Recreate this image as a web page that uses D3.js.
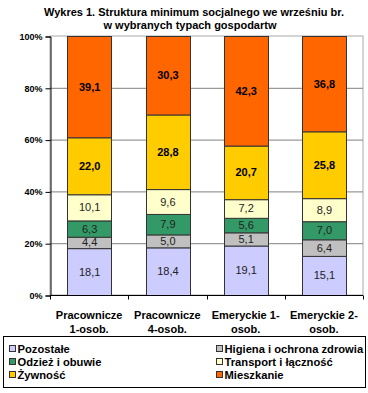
<!DOCTYPE html>
<html><head><meta charset="utf-8">
<script src="https://cdn.jsdelivr.net/npm/d3@7"></script>
<style>body{margin:0;background:#fff}svg{display:block;font-family:"Liberation Sans",Arial,sans-serif}</style>
</head><body>
<script>
const categories = [["Pracownicze","1-osob."],["Pracownicze","4-osob."],["Emeryckie 1-","osob."],["Emeryckie 2-","osob."]];
const seriesNames = ["Pozostałe","Higiena i ochrona zdrowia","Odzież i obuwie","Transport i łączność","Żywność","Mieszkanie"];
const pozostale = [18.1,18.4,19.1,15.1];
const higiena = [4.4,5.0,5.1,6.4];
const odziez = [6.3,7.9,5.6,7.0];
const transport = [10.1,9.6,7.2,8.9];
const zywnosc = [22.0,28.8,20.7,25.8];
const mieszkanie = [39.1,30.3,42.3,36.8];
const yTicks = [0,20,40,60,80,100];
const colors = ["#CCCCFF","#C0C0C0","#339966","#FFFFCC","#FFCC00","#FF6600"];
const seriesData = [pozostale,higiena,odziez,transport,zywnosc,mieszkanie];

const W=368,H=393;
const svg=d3.select("body").append("svg").attr("width",W).attr("height",H);
const x=d3.scaleBand().domain(d3.range(categories.length)).range([50,363]).paddingInner(0.444).paddingOuter(0.222);
const y=d3.scaleLinear().domain([0,100]).range([295,36]);

// title
const t=svg.append("text").attr("text-anchor","middle").attr("font-weight","bold").attr("font-size",11);
t.append("tspan").attr("x",194).attr("y",16).text("Wykres 1. Struktura minimum socjalnego we wrześniu br.");
t.append("tspan").attr("x",190).attr("y",29).text("w wybranych typach gospodartw");

// plot border
svg.append("rect").attr("x",50).attr("y",y(100)).attr("width",313).attr("height",y(0)-y(100)).attr("fill","none").attr("stroke","#aaa");
// gridlines
svg.append("g").selectAll("line").data(yTicks.filter(d=>d>0&&d<100)).join("line")
 .attr("x1",50).attr("x2",363).attr("y1",d=>y(d)+0.5).attr("y2",d=>y(d)+0.5).attr("stroke","#808080");

// stacked
const rows=categories.map((c,i)=>{const o={i};seriesNames.forEach((s,k)=>o[s]=seriesData[k][i]);return o;});
const stack=d3.stack().keys(seriesNames)(rows);
const g=svg.append("g");
stack.forEach((layer,k)=>{
  layer.forEach((d,i)=>{
    g.append("rect").attr("x",Math.round(x(i))+0.5).attr("y",y(d[1])+0.5).attr("width",Math.round(x.bandwidth())).attr("height",y(d[0])-y(d[1]))
     .attr("fill",colors[k]).attr("stroke","#333").attr("stroke-width",1);
  });
});
stack.forEach((layer,k)=>{
  layer.forEach((d,i)=>{
    g.append("text").attr("x",x(i)+x.bandwidth()/2+0.5).attr("y",(y(d[0])+y(d[1]))/2+4)
     .attr("text-anchor","middle").attr("font-size",11).attr("fill",k>=4?"#000":"#222")
     .attr("font-weight",k>=4?"bold":"normal")
     .text(d3.format(".1f")(d.data[seriesNames[k]]).replace(".",","));
  });
});

// y axis
const ya=svg.append("g").attr("transform","translate(50.5,0.5)")
 .call(d3.axisLeft(y).tickValues(yTicks).tickSize(5).tickFormat(d=>d+"%"));
ya.select(".domain").attr("stroke","#000");
ya.selectAll("text").attr("font-size",9).attr("font-weight","bold").attr("font-family","Liberation Sans, Arial, sans-serif").attr("x",-8);
// x axis
const xa=svg.append("g").attr("transform","translate(0,"+(y(0)+0.5)+")");
xa.append("line").attr("x1",50).attr("x2",363).attr("stroke","#000");
xa.selectAll("line.tk").data(d3.range(categories.length+1)).join("line").attr("class","tk")
 .attr("x1",i=>Math.round(50+i*313/4)+0.5).attr("x2",i=>Math.round(50+i*313/4)+0.5).attr("y1",0).attr("y2",4).attr("stroke","#000");
categories.forEach((c,i)=>{
  const tx=svg.append("text").attr("text-anchor","middle").attr("font-weight","bold").attr("font-size",11);
  c.forEach((line,j)=>tx.append("tspan").attr("x",x(i)+x.bandwidth()/2).attr("y",319+j*14).text(line));
});

// legend
svg.append("rect").attr("x",3.5).attr("y",336.5).attr("width",362).attr("height",51).attr("fill","#fff").attr("stroke","#000");
const legPos=[[9,349],[216,349],[9,362],[216,362],[9,375],[216,375]];
seriesNames.forEach((s,k)=>{
  const [lx,ly]=legPos[k];
  svg.append("rect").attr("x",lx+0.5).attr("y",ly-3.5).attr("width",6).attr("height",6).attr("fill",colors[k]).attr("stroke","#333");
  svg.append("text").attr("x",lx+8.5).attr("y",ly+4).attr("font-size",11.2).attr("font-weight","bold").text(s);
});
</script>
</body></html>
